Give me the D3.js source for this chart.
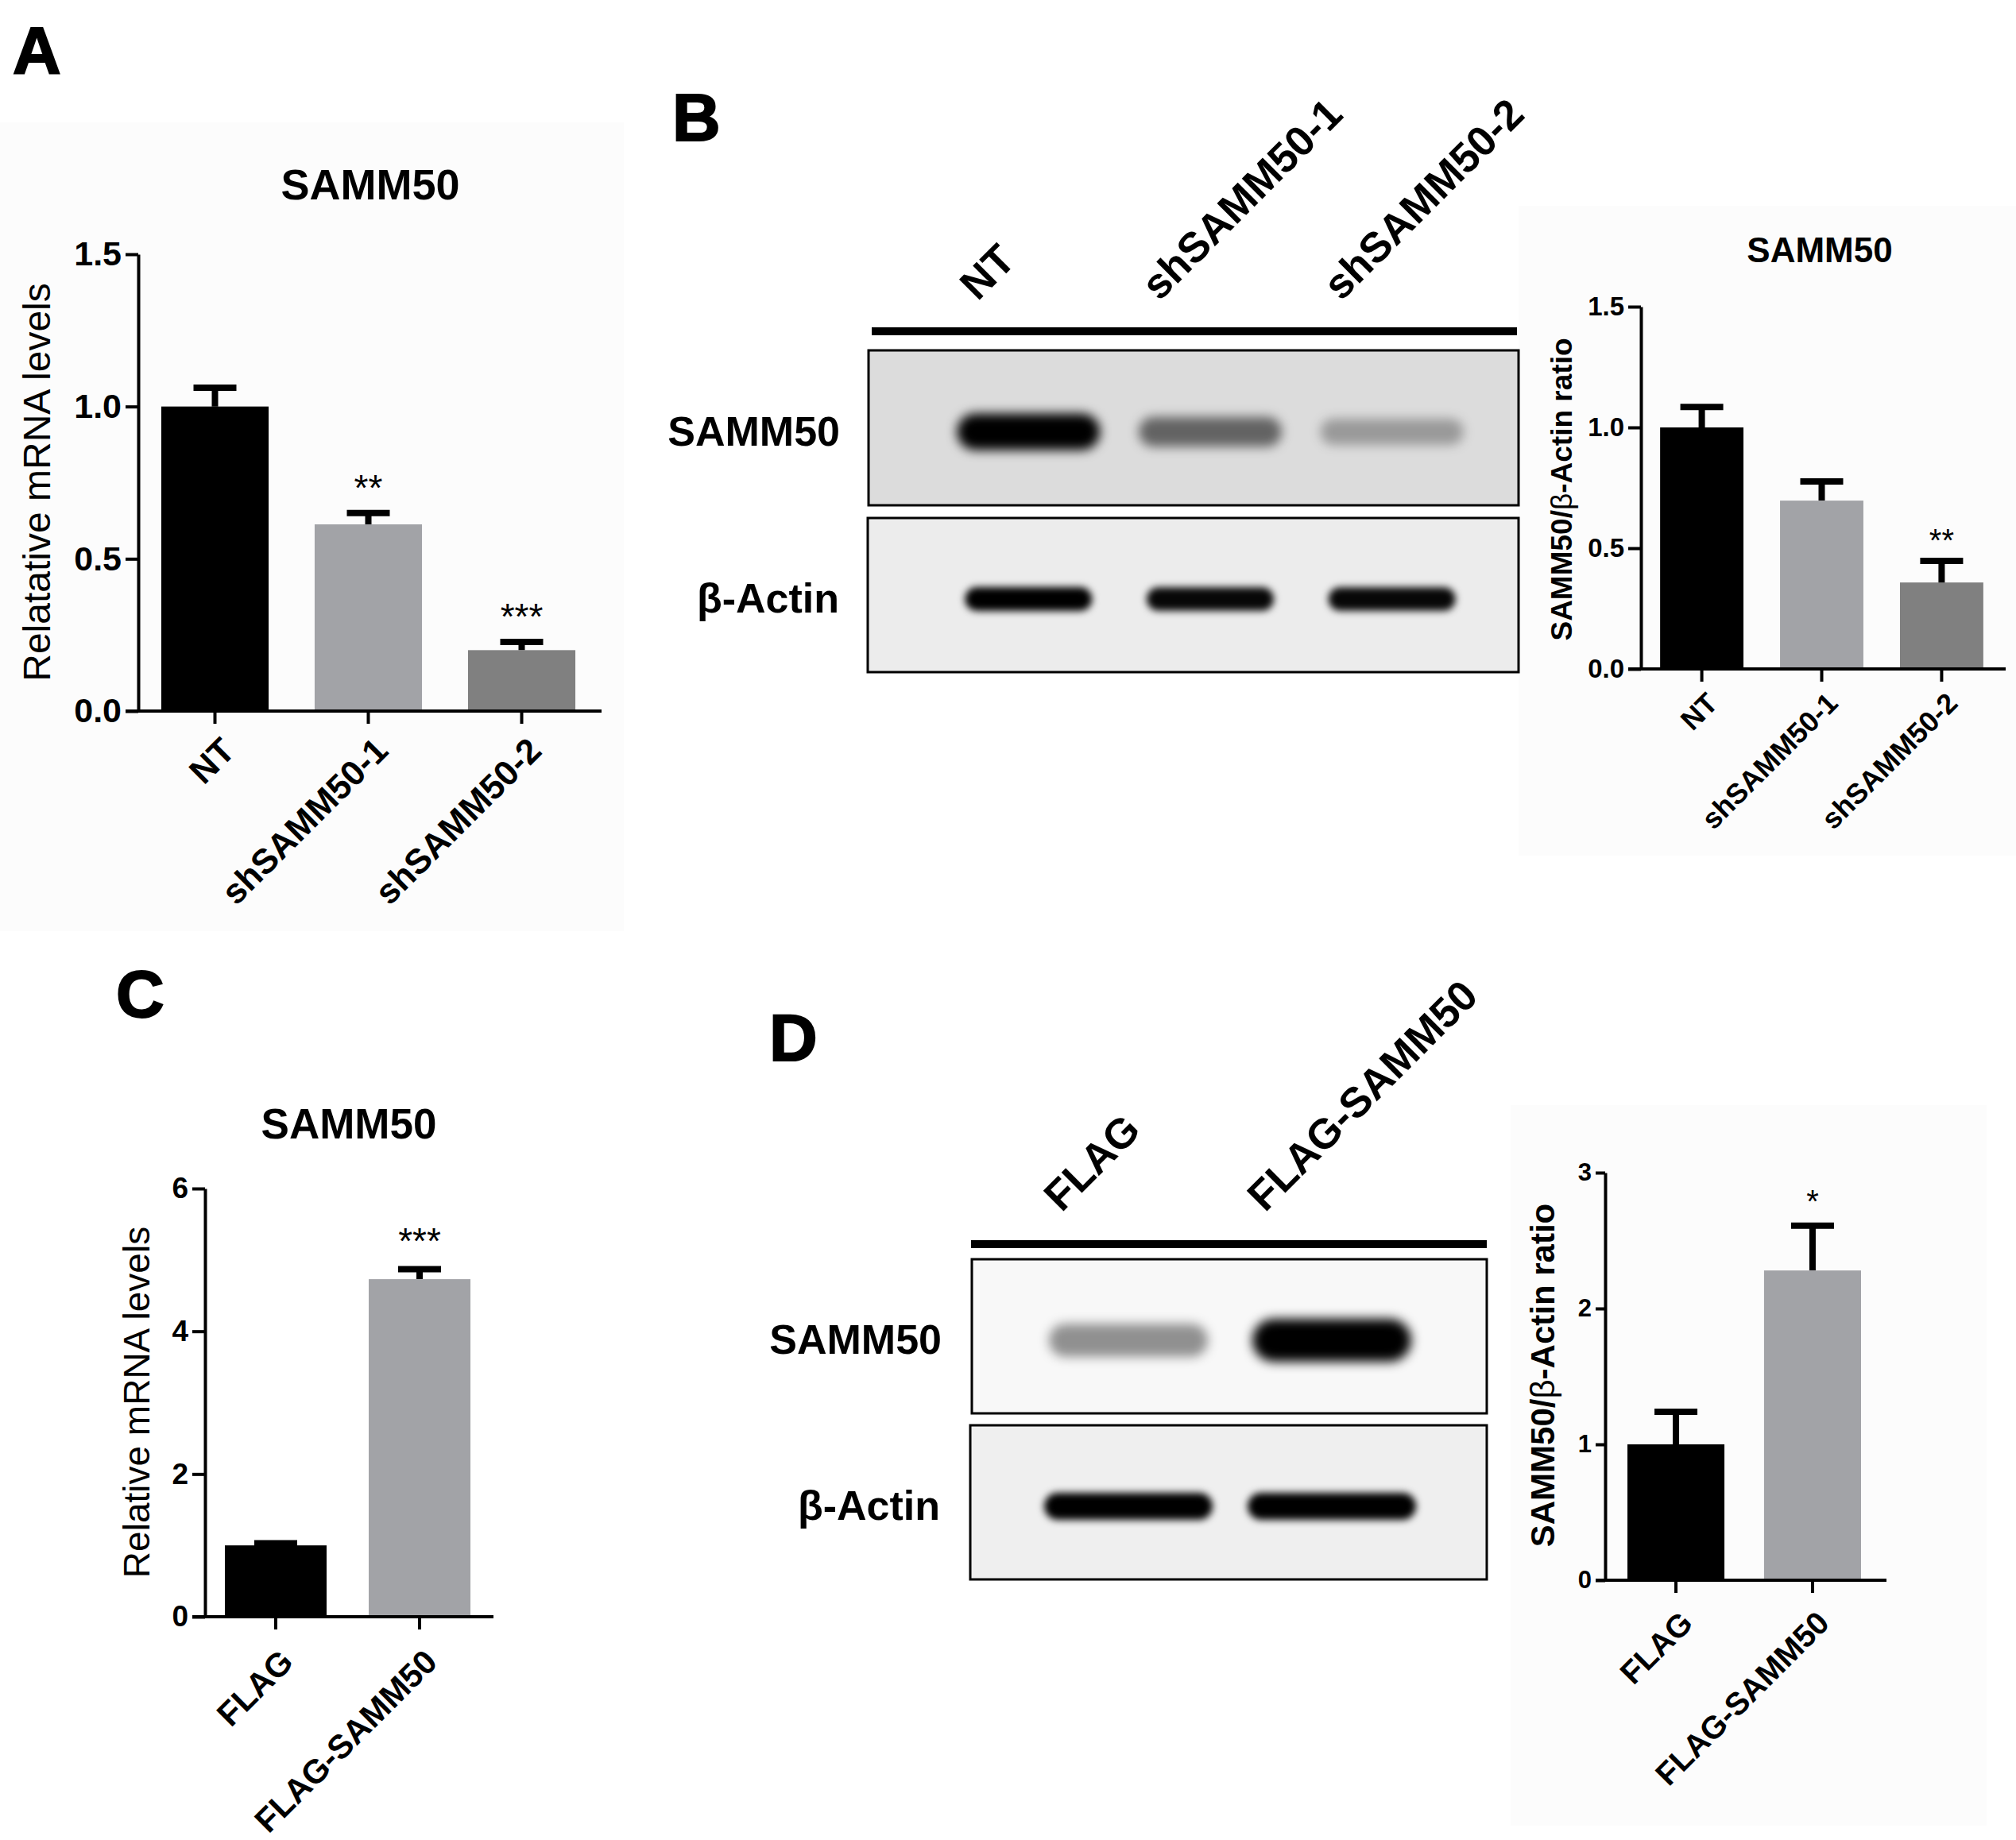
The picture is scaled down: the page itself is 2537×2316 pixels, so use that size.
<!DOCTYPE html>
<html>
<head>
<meta charset="utf-8">
<script src="https://cdn.jsdelivr.net/npm/d3@7"></script>
<style>
  body { margin: 0; background: #fff; }
  svg { display: block; font-family: 'Liberation Sans', Arial, sans-serif; }
</style>
</head>
<body>
<svg id="fig" width="2537" height="2316"></svg>
<script>
// ---- Dados
// A: qPCR knockdown
const catsA = ['NT', 'shSAMM50-1', 'shSAMM50-2'];
const meanA = [1.0, 0.613, 0.200];
const semA = [0.062, 0.037, 0.027];
const starsA = ['', '**', '***'];
const ticksA = [0, 0.5, 1.0, 1.5];

// B: western blot + quantificacao
const lanesB = ['NT', 'shSAMM50-1', 'shSAMM50-2'];
const bandSammB = [1.0, 0.55, 0.30];
const bandActinB = [1.0, 0.97, 0.97];
const meanB = [1.0, 0.697, 0.358];
const semB = [0.085, 0.079, 0.089];
const starsB = ['', '', '**'];
const ticksB = [0, 0.5, 1.0, 1.5];

// C: qPCR overexpression
const catsC = ['FLAG', 'FLAG-SAMM50'];
const meanC = [1.0, 4.73];
const semC = [0.03, 0.14];
const starsC = ['', '***'];
const ticksC = [0, 2, 4, 6];

// D: western blot + quantificacao
const lanesD = ['FLAG', 'FLAG-SAMM50'];
const bandSammD = [0.42, 1.0];
const bandActinD = [1.0, 1.0];
const meanD = [1.0, 2.28];
const semD = [0.24, 0.33];
const starsD = ['', '*'];
const ticksD = [0, 1, 2, 3];

const colors3 = ['#000000', '#a2a3a7', '#808080'];
const colors2 = ['#000000', '#a2a3a7'];

const svg = d3.select('#fig');

// blur para as bandas
const defs = svg.append('defs');
[5, 7, 9].forEach(s => {
  defs.append('filter').attr('id', 'blur' + s)
    .attr('x', '-50%').attr('y', '-100%').attr('width', '200%').attr('height', '300%')
    .append('feGaussianBlur').attr('stdDeviation', s);
});

// fundos quase brancos atras dos graficos
[[0, 154, 785, 1018], [1911, 259, 626, 818], [1901, 1391, 599, 907]].forEach(b => {
  svg.append('rect').attr('x', b[0]).attr('y', b[1]).attr('width', b[2]).attr('height', b[3]).attr('fill', '#fcfcfc');
});

// ---- Grafico de barras estilo Prism
const plotBars = (cats, means, sems, stars, ticks, colors, lay) => {
  const g = svg.append('g');
  const x = d3.scaleBand().domain(cats).range([lay.x0, lay.x1])
    .paddingInner(lay.pi).paddingOuter(lay.po);
  const y = d3.scaleLinear().domain([0, d3.max(ticks)]).range([lay.y0, lay.yTop]);
  const rows = cats.map((c, i) => ({ c, m: means[i], s: sems[i], st: stars[i], col: colors[i] }));

  // barras
  g.selectAll('rect.bar').data(rows).join('rect')
    .attr('class', 'bar')
    .attr('x', d => x(d.c))
    .attr('y', d => y(d.m))
    .attr('width', x.bandwidth())
    .attr('height', d => lay.y0 - y(d.m))
    .attr('fill', d => d.col);

  // barras de erro (so para cima)
  const cx = d => x(d.c) + x.bandwidth() / 2;
  g.selectAll('path.err').data(rows).join('path')
    .attr('class', 'err')
    .attr('d', d => `M${cx(d)},${y(d.m)}V${y(d.m + d.s)}M${cx(d) - 27},${y(d.m + d.s)}H${cx(d) + 27}`)
    .attr('stroke', '#000').attr('stroke-width', 8).attr('fill', 'none');

  // asteriscos
  g.selectAll('text.star').data(rows).join('text')
    .attr('class', 'star')
    .attr('x', cx)
    .attr('y', d => y(d.m + d.s) - lay.starGap)
    .attr('text-anchor', 'middle')
    .attr('font-size', lay.starSize)
    .text(d => d.st);

  // eixo Y
  const gy = g.append('g')
    .attr('transform', `translate(${lay.x0},0)`)
    .call(d3.axisLeft(y).tickValues(ticks).tickSize(lay.tick).tickSizeOuter(0).tickPadding(5)
      .tickFormat(d3.format(lay.fmt)));
  gy.attr('font-family', null).attr('font-size', lay.tickFont).attr('font-weight', 'bold');
  gy.selectAll('path, line').attr('stroke-width', 4);
  gy.selectAll('text').attr('fill', '#000');

  // eixo X
  const gx = g.append('g')
    .attr('transform', `translate(0,${lay.y0})`)
    .call(d3.axisBottom(x).tickSize(16).tickSizeOuter(0));
  gx.select('.domain').remove();
  gx.append('line')
    .attr('x1', lay.x0 - lay.tick).attr('x2', lay.x1 + 4)
    .attr('stroke', '#000').attr('stroke-width', 4);
  gx.selectAll('line').attr('stroke-width', 4);
  gx.attr('font-family', null).attr('font-size', lay.xFont).attr('font-weight', 'bold');
  gx.selectAll('.tick text')
    .attr('fill', '#000')
    .attr('x', 0).attr('y', 0).attr('dy', '0.72em')
    .attr('text-anchor', 'end')
    .attr('transform', `translate(${lay.xdx},${lay.xdy}) rotate(-45)`);

  // titulo
  if (lay.title) {
    g.append('text')
      .attr('x', lay.title[0]).attr('y', lay.title[1])
      .attr('text-anchor', 'middle')
      .attr('font-size', lay.title[2]).attr('font-weight', 'bold')
      .text('SAMM50');
  }

  // label do eixo Y
  const yl = g.append('text')
    .attr('transform', `translate(${lay.ylab[0]},${lay.ylab[1]}) rotate(-90)`)
    .attr('dy', '0.35em')
    .attr('text-anchor', 'middle')
    .attr('font-size', lay.ylab[2])
    .attr('font-weight', lay.ylabWeight);
  if (lay.ylabText.includes('β')) {
    const parts = lay.ylabText.split('β');
    yl.append('tspan').text(parts[0]);
    yl.append('tspan').attr('font-weight', 'normal').text('β');
    yl.append('tspan').text(parts[1]);
  } else {
    yl.text(lay.ylabText);
  }
};

// ---- Western blot desenhado
const plotBlot = (lanes, rowsData, lay) => {
  const g = svg.append('g');
  const lane = d3.scaleBand().domain(lanes).range(lay.laneRange);

  // linha preta sobre as canaletas
  g.append('line')
    .attr('x1', lay.bar[0]).attr('x2', lay.bar[1])
    .attr('y1', lay.bar[2]).attr('y2', lay.bar[2])
    .attr('stroke', '#000').attr('stroke-width', 10);

  // nomes das canaletas
  g.selectAll('text.lane').data(lanes).join('text')
    .attr('class', 'lane')
    .attr('transform', d => `translate(${lane(d) + lane.bandwidth() / 2 + lay.labelOff},${lay.labelY}) rotate(-45)`)
    .attr('font-size', lay.laneFont).attr('font-weight', 'bold')
    .text(d => d);

  rowsData.forEach((row, k) => {
    const r = lay.rows[k];
    const clipId = `clip-${lay.id}-${k}`;
    defs.append('clipPath').attr('id', clipId)
      .append('rect').attr('x', r.x).attr('y', r.y).attr('width', r.w).attr('height', r.h);

    g.append('rect')
      .attr('x', r.x).attr('y', r.y).attr('width', r.w).attr('height', r.h)
      .attr('fill', r.bg);

    const cy = r.y + r.h / 2 + 5;
    g.append('g').attr('clip-path', `url(#${clipId})`)
      .selectAll('rect').data(row.values).join('rect')
      .attr('x', (v, i) => lane(lanes[i]) + lane.bandwidth() / 2 - r.rx)
      .attr('y', v => cy - r.ry * (0.6 + 0.4 * v))
      .attr('width', 2 * r.rx)
      .attr('height', v => 2 * r.ry * (0.6 + 0.4 * v))
      .attr('rx', v => r.ry * (0.6 + 0.4 * v))
      .attr('fill', '#000')
      .attr('fill-opacity', v => v)
      .attr('filter', `url(#blur${r.blur})`);

    g.append('rect')
      .attr('x', r.x).attr('y', r.y).attr('width', r.w).attr('height', r.h)
      .attr('fill', 'none').attr('stroke', '#000').attr('stroke-width', 3);

    g.append('text')
      .attr('x', r.x - lay.rowLabelGap).attr('y', r.y + r.h / 2 + 4)
      .attr('dy', '0.35em')
      .attr('text-anchor', 'end')
      .attr('font-size', 52).attr('font-weight', 'bold')
      .text(row.name);
  });
};

// ---- Letras dos paineis
[['A', 16, 93], ['B', 846, 177], ['C', 146, 1280], ['D', 968, 1335]].forEach(p => {
  svg.append('text').attr('x', p[1]).attr('y', p[2])
    .attr('font-size', 84).attr('font-weight', 'bold')
    .attr('stroke', '#000').attr('stroke-width', 2)
    .text(p[0]);
});

// A
plotBars(catsA, meanA, semA, starsA, ticksA, colors3, {
  x0: 174, x1: 753, pi: 0.30, po: 0.15, y0: 895, yTop: 320, tick: 16, tickFont: 43, fmt: '.1f',
  xFont: 44, xdx: 5, xdy: 30, starSize: 46, starGap: 16,
  title: [466, 251, 54], ylab: [46, 607, 48], ylabText: 'Relatative mRNA levels', ylabWeight: 'normal'
});

// B
plotBlot(lanesB, [{ name: 'SAMM50', values: bandSammB }, { name: 'β-Actin', values: bandActinB }], {
  id: 'b', laneRange: [1180, 1866], bar: [1097, 1909, 417], labelOff: -64, labelY: 380, laneFont: 53,
  rowLabelGap: 36,
  rows: [
    { x: 1093, y: 441, w: 818, h: 195, bg: '#dcdcdc', rx: 90, ry: 23, blur: 7 },
    { x: 1092, y: 652, w: 819, h: 194, bg: '#ececec', rx: 80, ry: 15, blur: 5 }
  ]
});
plotBars(lanesB, meanB, semB, starsB, ticksB, colors3, {
  x0: 2065, x1: 2520, pi: 0.305, po: 0.16, y0: 842, yTop: 386, tick: 16, tickFont: 33, fmt: '.1f',
  xFont: 36, xdx: 4, xdy: 27, starSize: 40, starGap: 12,
  title: [2290, 330, 44], ylab: [1965, 616, 37], ylabText: 'SAMM50/β-Actin ratio', ylabWeight: 'bold'
});

// C
plotBars(catsC, meanC, semC, starsC, ticksC, colors2, {
  x0: 258, x1: 617, pi: 0.293, po: 0.138, y0: 2035, yTop: 1496, tick: 16, tickFont: 37, fmt: 'd',
  xFont: 42, xdx: 3, xdy: 38, starSize: 46, starGap: 20,
  title: [439, 1433, 53], ylab: [172, 1765, 46], ylabText: 'Relative mRNA levels', ylabWeight: 'normal'
});

// D
plotBlot(lanesD, [{ name: 'SAMM50', values: bandSammD }, { name: 'β-Actin', values: bandActinD }], {
  id: 'd', laneRange: [1292, 1804], bar: [1222, 1871, 1566], labelOff: -84, labelY: 1527, laneFont: 53,
  rowLabelGap: 38,
  rows: [
    { x: 1223, y: 1585, w: 648, h: 194, bg: '#f8f8f8', rx: 100, ry: 27, blur: 7 },
    { x: 1221, y: 1794, w: 650, h: 194, bg: '#efefef', rx: 106, ry: 17, blur: 5 }
  ]
});
plotBars(lanesD, meanD, semD, starsD, ticksD, colors2, {
  x0: 2020, x1: 2370, pi: 0.29, po: 0.163, y0: 1989, yTop: 1476, tick: 12, tickFont: 31, fmt: 'd',
  xFont: 40, xdx: 3, xdy: 36, starSize: 40, starGap: 17,
  title: null, ylab: [1941, 1731, 42], ylabText: 'SAMM50/β-Actin ratio', ylabWeight: 'bold'
});
</script>
</body>
</html>
